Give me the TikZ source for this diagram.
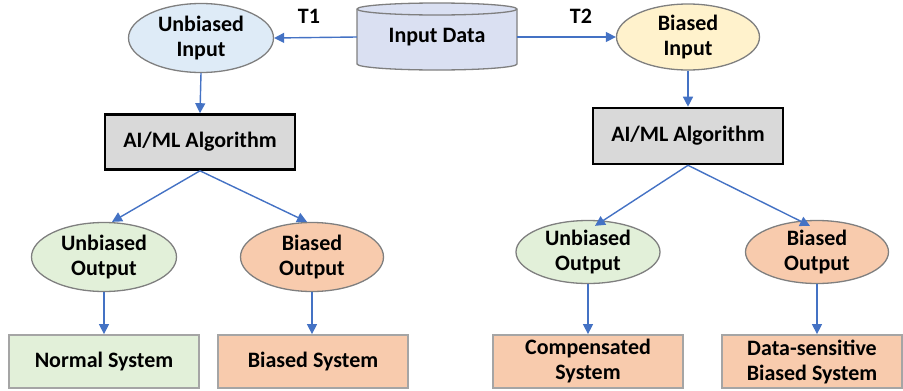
\documentclass[tikz,border=0pt]{standalone}
\usepackage{fontspec}
\setmainfont{Carlito}
\usetikzlibrary{shapes.geometric,arrows.meta}
\definecolor{arr}{HTML}{4472C4}
\definecolor{edg}{HTML}{7F7F7F}
\definecolor{bxedg}{HTML}{A5A5A5}
\definecolor{lblue}{HTML}{DEEBF7}
\definecolor{lyel}{HTML}{FFF2CC}
\definecolor{lgreen}{HTML}{E2F0D9}
\definecolor{lorange}{HTML}{F8CBAD}
\definecolor{lcyl}{HTML}{DAE0F2}
\definecolor{lgray}{HTML}{D9D9D9}
\tikzset{
  txt/.style={font=\fontsize{22}{25}\selectfont\bfseries, align=center, text=black},
  ell/.style={txt, ellipse, draw=edg, line width=1.3pt, inner sep=0pt, minimum width=145pt, minimum height=69pt},
  algbox/.style={txt, rectangle, draw=black, line width=2.6pt, fill=lgray, inner sep=0pt, minimum width=190pt, minimum height=55pt},
  sysbox/.style={txt, rectangle, draw=bxedg, line width=1.8pt, inner sep=0pt, minimum width=190pt, minimum height=53pt},
  conn/.style={draw=arr, line width=1.4pt, -{Triangle[length=10pt,width=10pt]}},
}
\begin{document}
\begin{tikzpicture}[x=1pt,y=-1pt]
\useasboundingbox (0,0) rectangle (903,391);
% cylinder
\draw[draw=edg, line width=1.3pt, fill=lcyl] (357,9) -- (357,64) arc[start angle=180, end angle=0, x radius=80, y radius=6] -- (517,9) arc[start angle=0, end angle=-180, x radius=80, y radius=6] -- cycle;
\draw[draw=edg, line width=1.3pt] (357,9) arc[start angle=180, end angle=0, x radius=80, y radius=6];
\node[txt, minimum width=160pt, minimum height=67pt, inner sep=0pt] (data) at (437,37) {Input Data};

\node[ell, fill=lblue] (ui) at (201,38) {Unbiased\\Input};
\node[ell, fill=lyel, minimum width=143pt, minimum height=66pt] (bi) at (688,37) {Biased\\Input};
\node[txt] (t1) at (309,16) {T1};
\node[txt] (t2) at (581,16) {T2};

\node[algbox] (alg1) at (200,142) {AI/ML Algorithm};
\node[algbox, minimum height=56pt] (alg2) at (688,136) {AI/ML Algorithm};

\node[ell, fill=lgreen] (uo1) at (104,257) {Unbiased\\Output};
\node[ell, fill=lorange, minimum width=143pt] (bo1) at (312,257) {Biased\\Output};
\node[ell, fill=lgreen, minimum width=144pt, minimum height=63pt] (uo2) at (588,252) {Unbiased\\Output};
\node[ell, fill=lorange, minimum width=143pt, minimum height=63pt] (bo2) at (817,252) {Biased\\Output};

\node[sysbox, fill=lgreen] (ns) at (104,361.5) {Normal System};
\node[sysbox, fill=lorange] (bs) at (313,361.5) {Biased System};
\node[sysbox, fill=lorange] (cs) at (588,361.5) {Compensated\\System};
\node[sysbox, fill=lorange, minimum width=180pt] (ds) at (812,361.5) {Data-sensitive\\Biased System};

\draw[conn] (data.west) -- (ui.east);
\draw[conn] (data.east) -- (bi.west);
\draw[conn] (ui.south) -- (alg1.north);
\draw[conn] (bi.south) -- (alg2.north);
\draw[conn] (alg1.south) -- ([xshift=8pt]uo1.north);
\draw[conn] (alg1.south) -- ([xshift=-5pt]bo1.north);
\draw[conn] (alg2.south) -- ([xshift=7pt,yshift=-6pt]uo2.north);
\draw[conn] (alg2.south) -- ([xshift=-7pt,yshift=-6pt]bo2.north);
\draw[conn] (uo1.south) -- (ns.north);
\draw[conn] (bo1.south) -- ([xshift=-1pt]bs.north);
\draw[conn] (uo2.south) -- (cs.north);
\draw[conn] (bo2.south) -- ([xshift=5pt]ds.north);
\end{tikzpicture}
\end{document}
